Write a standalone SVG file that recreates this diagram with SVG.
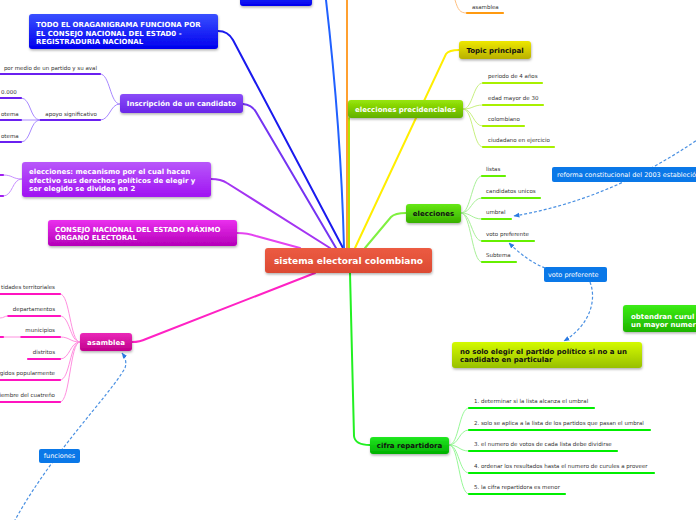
<svg xmlns="http://www.w3.org/2000/svg" width="696" height="520" viewBox="0 0 696 520">
<defs>
<style>
.nt{font-family:"DejaVu Sans",Verdana,sans-serif;font-weight:bold;font-size:7px;fill:#fff}
.nk{fill:#111}
.ct{font-family:"DejaVu Sans",Verdana,sans-serif;font-weight:bold;font-size:9px;fill:#fff}
.lb{font-family:"DejaVu Sans",Verdana,sans-serif;font-size:5.5px;fill:#333}
.bx{font-family:"DejaVu Sans",Verdana,sans-serif;font-size:6.5px;fill:#fff}
.main{fill:none;stroke-width:2;stroke-linecap:round}
.sub{fill:none;stroke-width:1}
.ul{fill:none;stroke-width:2.2;stroke-linecap:round}
.dash{fill:none;stroke:#4a90e2;stroke-width:1.2;stroke-dasharray:3 2}
.nd{filter:url(#sh)}
</style>
<filter id="sh" x="-10%" y="-30%" width="120%" height="170%">
<feDropShadow dx="0.5" dy="1.5" stdDeviation="1" flood-color="#000" flood-opacity="0.3"/>
</filter>
<marker id="ar" viewBox="0 0 10 10" refX="9" refY="5" markerWidth="5" markerHeight="5" orient="auto"><path d="M0,1 L10,5 L0,9 Z" fill="#2a7ae2"/></marker>
<linearGradient id="gCenter" x1="0" y1="0" x2="0" y2="1"><stop offset="0" stop-color="#ec5b42"/><stop offset="1" stop-color="#dc4a33"/></linearGradient>
<linearGradient id="gBlue" x1="0" y1="0" x2="0" y2="1"><stop offset="0" stop-color="#3a50ff"/><stop offset="1" stop-color="#0000ee"/></linearGradient>
<linearGradient id="gInsc" x1="0" y1="0" x2="0" y2="1"><stop offset="0" stop-color="#8a4cf8"/><stop offset="1" stop-color="#6a26e8"/></linearGradient>
<linearGradient id="gElec" x1="0" y1="0" x2="0" y2="1"><stop offset="0" stop-color="#b858fa"/><stop offset="1" stop-color="#a012f2"/></linearGradient>
<linearGradient id="gCons" x1="0" y1="0" x2="0" y2="1"><stop offset="0" stop-color="#ea30ee"/><stop offset="1" stop-color="#b400b8"/></linearGradient>
<linearGradient id="gAsam" x1="0" y1="0" x2="0" y2="1"><stop offset="0" stop-color="#ea28b8"/><stop offset="1" stop-color="#c0008c"/></linearGradient>
<linearGradient id="gPres" x1="0" y1="0" x2="0" y2="1"><stop offset="0" stop-color="#98e608"/><stop offset="1" stop-color="#62b000"/></linearGradient>
<linearGradient id="gTopic" x1="0" y1="0" x2="0" y2="1"><stop offset="0" stop-color="#eee800"/><stop offset="1" stop-color="#b8b000"/></linearGradient>
<linearGradient id="gElc" x1="0" y1="0" x2="0" y2="1"><stop offset="0" stop-color="#66e814"/><stop offset="1" stop-color="#38b000"/></linearGradient>
<linearGradient id="gCifra" x1="0" y1="0" x2="0" y2="1"><stop offset="0" stop-color="#22e822"/><stop offset="1" stop-color="#00b000"/></linearGradient>
<linearGradient id="gNo" x1="0" y1="0" x2="0" y2="1"><stop offset="0" stop-color="#d4fa00"/><stop offset="1" stop-color="#98c000"/></linearGradient>
<linearGradient id="gObt" x1="0" y1="0" x2="0" y2="1"><stop offset="0" stop-color="#3cec14"/><stop offset="1" stop-color="#1eb400"/></linearGradient>
</defs>
<rect width="696" height="520" fill="#fff"/>

<g id="connectors">
  <path class="main" stroke="#1a1aee" d="M218,31 Q228,31 233,40 L343,248"/>
  <path class="main" stroke="#2060ff" d="M326,0 Q341,130 344,248"/>
  <path class="main" stroke="#7434f2" d="M243,104 Q252,105 256,112 L336,248"/>
  <path class="main" stroke="#a434f2" d="M211,179 Q221,179 227,183 L330,248"/>
  <path class="main" stroke="#e444f0" d="M237,233 Q248,233 256,236 L300,248"/>
  <path class="main" stroke="#ff22c4" d="M132,342 Q140,342 146,339 L315,273"/>
  <path class="main" stroke="#ffa030" d="M347,248 L347,0"/>
  <path class="main" stroke="#b4e400" d="M349,248 L349,118"/>
  <path class="main" stroke="#ffee00" d="M355,248 L446,54 Q449,50 459,50"/>
  <path class="main" stroke="#80f040" d="M365,248 L391,217 Q395,213 406,213"/>
  <path class="main" stroke="#22f022" d="M350,273 L354,436 Q355,445 370,445"/>

  <path class="sub" stroke="#ffc080" d="M455,0 C458,10 460,13 467,13"/>
  <path class="ul" stroke="#ff9a10" d="M467,13 L503,13"/>

  <path class="sub" stroke="#a888ff" d="M120,104 C110,104 110,74 100,74"/>
  <path class="sub" stroke="#a888ff" d="M120,104 C110,104 110,120 100,120"/>
  <path class="ul" stroke="#6a20f0" d="M0,74 L100,74"/>
  <path class="ul" stroke="#6a20f0" d="M40,120 L100,120"/>
  <path class="sub" stroke="#a888ff" d="M40,120 C30,120 31,98 21,98"/>
  <path class="sub" stroke="#a888ff" d="M40,120 L21,120"/>
  <path class="sub" stroke="#a888ff" d="M40,120 C30,120 31,142 21,142"/>
  <path class="ul" stroke="#6a20f0" d="M0,98 L21,98"/>
  <path class="ul" stroke="#6a20f0" d="M0,120 L21,120"/>
  <path class="ul" stroke="#6a20f0" d="M0,142 L21,142"/>

  <path class="sub" stroke="#c890ff" d="M22,179 C12,179 13,175 3,175"/>
  <path class="sub" stroke="#c890ff" d="M22,179 C12,179 13,196 3,196"/>
  <path class="ul" stroke="#a020f0" d="M0,175 L3,175"/>
  <path class="ul" stroke="#a020f0" d="M0,196 L3,196"/>

  <path class="sub" stroke="#ff90e0" d="M80,342 C70,342 70,294 60,294"/>
  <path class="sub" stroke="#ff90e0" d="M80,342 C70,342 70,316 60,316"/>
  <path class="sub" stroke="#ff90e0" d="M80,342 C70,342 70,337 60,337"/>
  <path class="sub" stroke="#ff90e0" d="M80,342 C70,342 70,359 60,359"/>
  <path class="sub" stroke="#ff90e0" d="M80,342 C70,342 70,380 60,380"/>
  <path class="sub" stroke="#ff90e0" d="M80,342 C70,342 70,402 60,402"/>
  <path class="ul" stroke="#ff14c0" d="M0,294 L60,294"/>
  <path class="ul" stroke="#ff14c0" d="M8,316 L60,316"/>
  <path class="ul" stroke="#ff14c0" d="M21,337 L60,337"/>
  <path class="ul" stroke="#ff14c0" d="M28,359 L60,359"/>
  <path class="ul" stroke="#ff14c0" d="M0,380 L60,380"/>
  <path class="ul" stroke="#ff14c0" d="M0,402 L60,402"/>
  <path class="sub" stroke="#ff90e0" d="M8,316 C4,316 4,318 0,318"/>
  <path class="sub" stroke="#ff90e0" d="M21,337 L3,337"/>
  <path class="ul" stroke="#ff14c0" d="M0,337 L3,337"/>

  <path class="sub" stroke="#c8f080" d="M463,109 C473,109 473,83 483,83"/>
  <path class="sub" stroke="#c8f080" d="M463,109 C473,109 473,105 483,105"/>
  <path class="sub" stroke="#c8f080" d="M463,109 C473,109 473,126 483,126"/>
  <path class="sub" stroke="#c8f080" d="M463,109 C473,109 473,147 483,147"/>
  <path class="ul" stroke="#a8f000" d="M483,83 L542,83"/>
  <path class="ul" stroke="#a8f000" d="M483,105 L543,105"/>
  <path class="ul" stroke="#a8f000" d="M483,126 L524,126"/>
  <path class="ul" stroke="#a8f000" d="M483,147 L554,147"/>

  <path class="sub" stroke="#a8f098" d="M461,213 C471,213 472,176 482,176"/>
  <path class="sub" stroke="#a8f098" d="M461,213 C471,213 472,198 482,198"/>
  <path class="sub" stroke="#a8f098" d="M461,213 C471,213 472,219 482,219"/>
  <path class="sub" stroke="#a8f098" d="M461,213 C471,213 472,241 482,241"/>
  <path class="sub" stroke="#a8f098" d="M461,213 C471,213 472,262 482,262"/>
  <path class="ul" stroke="#66f000" d="M482,176 L505,176"/>
  <path class="ul" stroke="#66f000" d="M482,198 L540,198"/>
  <path class="ul" stroke="#66f000" d="M482,219 L511,219"/>
  <path class="ul" stroke="#66f000" d="M482,241 L534,241"/>
  <path class="ul" stroke="#66f000" d="M482,262 L516,262"/>

  <path class="sub" stroke="#98f898" d="M449,445 C459,445 459,408 469,408"/>
  <path class="sub" stroke="#98f898" d="M449,445 C459,445 459,430 469,430"/>
  <path class="sub" stroke="#98f898" d="M449,445 C459,445 459,451 469,451"/>
  <path class="sub" stroke="#98f898" d="M449,445 C459,445 459,473 469,473"/>
  <path class="sub" stroke="#98f898" d="M449,445 C459,445 459,494 469,494"/>
  <path class="ul" stroke="#00ee00" d="M469,408 L594,408"/>
  <path class="ul" stroke="#00ee00" d="M469,430 L650,430"/>
  <path class="ul" stroke="#00ee00" d="M469,451 L617,451"/>
  <path class="ul" stroke="#00ee00" d="M469,473 L654,473"/>
  <path class="ul" stroke="#00ee00" d="M469,494 L565,494"/>

  <path class="dash" marker-end="url(#ar)" d="M700,138 Q610,200 514,216"/>
  <path class="dash" marker-end="url(#ar)" d="M545,268 Q527,261 509,243"/>
  <path class="dash" marker-end="url(#ar)" d="M590,282 C597,300 590,325 564,341"/>
  <path class="dash" marker-end="url(#ar)" d="M14,522 C50,455 110,395 125,368 C127,362 125,357 122,353"/>
</g>

<g id="node-top">
  <rect class="nd" x="240" y="-14" width="72" height="20" rx="3" fill="url(#gBlue)"/>
</g>

<g id="node-todo">
  <rect class="nd" x="29" y="14" width="189" height="35" rx="3" fill="url(#gBlue)"/>
  <text class="nt" x="36" y="27">TODO EL ORAGANIGRAMA FUNCIONA POR</text>
  <text class="nt" x="36" y="35.5">EL CONSEJO NACIONAL DEL ESTAD0 -</text>
  <text class="nt" x="36" y="44">REGISTRADURIA NACIONAL</text>
</g>

<g id="node-inscripcion">
  <rect class="nd" x="120" y="94" width="123" height="19" rx="3" fill="url(#gInsc)"/>
  <text class="nt" x="181.5" y="106" text-anchor="middle">Inscripción de un candidato</text>
</g>
<g id="labels-inscripcion">
  <text class="lb" x="97" y="69.5" text-anchor="end">por medio de un partido y su aval</text>
  <text class="lb" x="97" y="115.5" text-anchor="end">apoyo significativo</text>
  <text class="lb" x="1" y="93.5">0.000</text>
  <text class="lb" x="1" y="115.5">otema</text>
  <text class="lb" x="1" y="137.5">otema</text>
</g>

<g id="node-elecciones-mecanismo">
  <rect class="nd" x="22" y="162" width="189" height="35" rx="3" fill="url(#gElec)"/>
  <text class="nt" x="29" y="174.3">elecciones: mecanismo por el cual hacen</text>
  <text class="nt" x="29" y="182.5">efectivo sus derechos políticos de elegir y</text>
  <text class="nt" x="29" y="190.8">ser elegido se dividen en 2</text>
</g>

<g id="node-consejo">
  <rect class="nd" x="48" y="220" width="189" height="26" rx="3" fill="url(#gCons)"/>
  <text class="nt" x="55" y="231.7">CONSEJO NACIONAL DEL ESTADO MÁXIMO</text>
  <text class="nt" x="55" y="240">ÓRGANO ELECTORAL</text>
</g>

<g id="node-center">
  <rect class="nd" x="265" y="248" width="167" height="25" rx="3" fill="url(#gCenter)"/>
  <text class="ct" x="348.5" y="264" text-anchor="middle">sistema electoral colombiano</text>
</g>

<g id="node-asamblea">
  <rect class="nd" x="80" y="333" width="52" height="18" rx="3" fill="url(#gAsam)"/>
  <text class="nt" x="106" y="344.5" text-anchor="middle">asamblea</text>
</g>
<g id="labels-asamblea">
  <text class="lb" x="55" y="289" text-anchor="end">tidades territoriales</text>
  <text class="lb" x="55" y="311" text-anchor="end">departamentos</text>
  <text class="lb" x="55" y="332" text-anchor="end">municipios</text>
  <text class="lb" x="55" y="354" text-anchor="end">distritos</text>
  <text class="lb" x="55" y="375" text-anchor="end">gidos popularmente</text>
  <text class="lb" x="55" y="397" text-anchor="end">iembre del cuatreño</text>
</g>

<g id="node-funciones">
  <rect x="39" y="449" width="41" height="14" rx="2" fill="#0a78e8"/>
  <text class="bx" x="59.5" y="458.3" text-anchor="middle">funciones</text>
</g>

<g id="label-asamblea-orange">
  <text class="lb" x="472" y="8.5">asamblea</text>
</g>

<g id="node-topic">
  <rect class="nd" x="459" y="41" width="72" height="18" rx="3" fill="url(#gTopic)"/>
  <text class="nt nk" x="495" y="52.5" text-anchor="middle">Topic principal</text>
</g>

<g id="node-precidenciales">
  <rect class="nd" x="348" y="100" width="115" height="18" rx="3" fill="url(#gPres)"/>
  <text class="nt" x="405.5" y="111.5" text-anchor="middle">elecciones precidenciales</text>
</g>
<g id="labels-precidenciales">
  <text class="lb" x="488" y="78">periodo de 4 años</text>
  <text class="lb" x="488" y="99.5">edad mayor de 30</text>
  <text class="lb" x="488" y="121">colombiano</text>
  <text class="lb" x="488" y="142">ciudadano en ejercicio</text>
</g>

<g id="node-elecciones">
  <rect class="nd" x="406" y="204" width="55" height="19" rx="3" fill="url(#gElc)"/>
  <text class="nt nk" x="433.5" y="216" text-anchor="middle">elecciones</text>
</g>
<g id="labels-elecciones">
  <text class="lb" x="486" y="171">listas</text>
  <text class="lb" x="486" y="193">candidatos unicos</text>
  <text class="lb" x="486" y="214">umbral</text>
  <text class="lb" x="486" y="236">voto preferente</text>
  <text class="lb" x="486" y="257">Subtema</text>
</g>

<g id="node-reforma">
  <rect x="552" y="167" width="150" height="15" rx="2" fill="#0a78e8"/>
  <text class="bx" x="557" y="177">reforma constitucional del 2003 estableció</text>
</g>

<g id="node-voto">
  <rect x="544" y="267" width="63" height="15" rx="2" fill="#0a78e8"/>
  <text class="bx" x="548" y="277">voto preferente</text>
</g>

<g id="node-obtendran">
  <rect class="nd" x="623" y="305" width="80" height="27" rx="3" fill="url(#gObt)"/>
  <text class="nt" x="631" y="318.5">obtendran curul</text>
  <text class="nt" x="631" y="326.5">un mayor numer</text>
</g>

<g id="node-nosolo">
  <rect class="nd" x="452" y="342" width="190" height="26" rx="3" fill="url(#gNo)"/>
  <text class="nt nk" x="460" y="353.5">no solo elegir el partido político si no a un</text>
  <text class="nt nk" x="460" y="362">candidato en particular</text>
</g>

<g id="node-cifra">
  <rect class="nd" x="370" y="437" width="79" height="17" rx="3" fill="url(#gCifra)"/>
  <text class="nt nk" x="409.5" y="448" text-anchor="middle">cifra repartidora</text>
</g>
<g id="labels-cifra">
  <text class="lb" x="474" y="403">1. determinar si la lista alcanza el umbral</text>
  <text class="lb" x="474" y="425">2. solo se aplica a la lista de los partidos que pasan el umbral</text>
  <text class="lb" x="474" y="446">3. el numero de votos de cada lista debe dividirse</text>
  <text class="lb" x="474" y="468">4. ordenar los resultados hasta el numero de curules a proveer</text>
  <text class="lb" x="474" y="489">5. la cifra repartidora es menor</text>
</g>
</svg>
